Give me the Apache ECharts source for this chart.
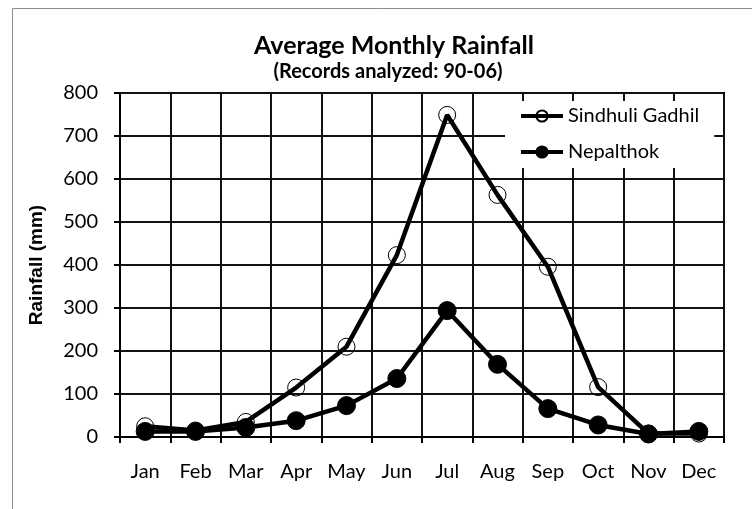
<!DOCTYPE html>
<html>
<head>
<meta charset="utf-8">
<script src="https://cdn.jsdelivr.net/npm/echarts@6/dist/echarts.min.js"></script>
<style>
  html, body { margin: 0; padding: 0; background: #fff; }
  #chart { width: 752px; height: 509px; }
</style>
</head>
<body>
<div id="chart"></div>
<script>
// 月份
const months = ['Jan', 'Feb', 'Mar', 'Apr', 'May', 'Jun', 'Jul', 'Aug', 'Sep', 'Oct', 'Nov', 'Dec']
// 月平均降雨量 (mm)
const sindhuliGadhil = [25, 15, 35, 115, 210, 423, 749, 563, 396, 116, 8, 8]
const nepalthok = [13, 13, 22, 38, 73, 136, 294, 169, 66, 28, 7, 13]
const yTicks = [0, 100, 200, 300, 400, 500, 600, 700, 800]

const font = 'Lato, "Open Sans", sans-serif'

const chart = echarts.init(document.getElementById('chart'))
chart.setOption({
  animation: false,
  backgroundColor: '#fff',
  graphic: [
    {
      type: 'rect',
      shape: { x: 12.5, y: 8.5, width: 800, height: 600 },
      style: { fill: 'none', stroke: '#8c8c8c', lineWidth: 1 },
      silent: true
    }
  ],
  title: [
    {
      text: 'Average Monthly Rainfall',
      left: 389,
      textAlign: 'center',
      top: 28,
      textStyle: { fontFamily: font, fontSize: 25, fontWeight: 'bold', color: '#000' }
    },
    {
      text: '(Records analyzed: 90-06)',
      left: 383,
      textAlign: 'center',
      top: 57,
      textStyle: { fontFamily: font, fontSize: 20, fontWeight: 'bold', color: '#000' }
    }
  ],
  legend: {
    orient: 'vertical',
    left: 505,
    top: 101,
    padding: [5, 15, 6, 14],
    itemGap: 16,
    itemWidth: 42,
    itemHeight: 14,
    backgroundColor: '#fff',
    lineStyle: { width: 4 },
    textStyle: { fontFamily: font, fontSize: 20, color: '#000' },
    data: ['Sindhuli Gadhil', 'Nepalthok']
  },
  grid: {
    left: 120,
    right: 28,
    top: 93,
    bottom: 72,
    show: true,
    borderColor: '#000',
    borderWidth: 2
  },
  xAxis: {
    type: 'category',
    data: months,
    boundaryGap: true,
    axisLine: { lineStyle: { color: '#000', width: 2 } },
    axisTick: { show: true, length: 6, lineStyle: { color: '#000', width: 2 } },
    axisLabel: { fontFamily: font, fontSize: 20, color: '#000', margin: 25 },
    splitLine: { show: true, lineStyle: { color: '#111', width: 2 } }
  },
  yAxis: {
    type: 'value',
    min: yTicks[0],
    max: yTicks[yTicks.length - 1],
    interval: 100,
    name: 'Rainfall (mm)',
    nameLocation: 'middle',
    nameGap: 74,
    nameTextStyle: { fontFamily: 'Liberation Sans, Arial, sans-serif', fontSize: 19, fontWeight: 'bold', color: '#000' },
    axisLine: { show: true, lineStyle: { color: '#000', width: 2 } },
    axisTick: { show: true, length: 6, lineStyle: { color: '#000', width: 2 } },
    axisLabel: { fontFamily: font, fontSize: 20, color: '#000', margin: 22 },
    splitLine: { show: true, lineStyle: { color: '#111', width: 2 } }
  },
  series: [
    {
      name: 'Sindhuli Gadhil',
      type: 'line',
      data: sindhuliGadhil,
      symbol: 'circle',
      symbolSize: 17,
      lineStyle: { color: '#000', width: 4.5 },
      itemStyle: { color: 'rgba(255,255,255,0)', borderColor: '#000', borderWidth: 1 },
      z: 3
    },
    {
      name: 'Nepalthok',
      type: 'line',
      data: nepalthok,
      symbol: 'circle',
      symbolSize: 18,
      lineStyle: { color: '#000', width: 4.5 },
      itemStyle: { color: '#000', borderColor: '#000', borderWidth: 1 },
      z: 3
    }
  ]
})
</script>
</body>
</html>
